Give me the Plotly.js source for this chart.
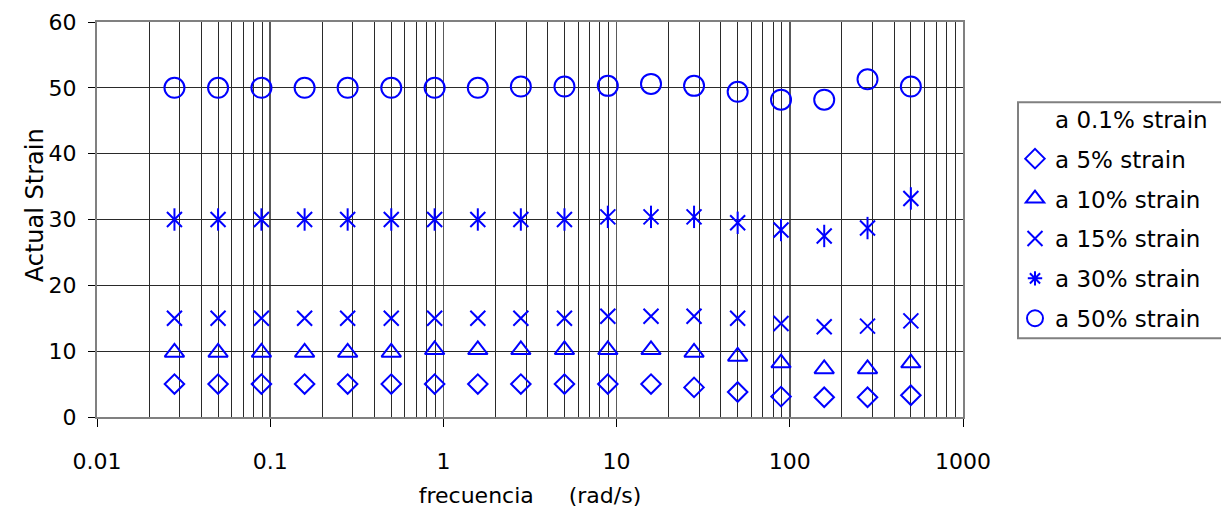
<!DOCTYPE html>
<html>
<head>
<meta charset="utf-8">
<script src="https://cdn.plot.ly/plotly-3.0.1.min.js"></script>
<style>
html,body{margin:0;padding:0;background:#fff;}
#chart{width:1221px;height:513px;}
</style>
</head>
<body>
<div id="chart"></div>
<script>
// Data
const freq = [0.028, 0.05, 0.089, 0.158, 0.28, 0.5, 0.89, 1.58, 2.8, 5.0, 8.9, 15.8, 28, 50, 89, 158, 281, 500];
const strain01 = [null];
const strain5  = [5.0, 5.0, 5.0, 5.0, 5.0, 5.0, 5.0, 5.0, 5.0, 5.0, 5.0, 5.0, 4.5, 3.8, 3.1, 3.0, 3.0, 3.3];
const strain10 = [9.8, 9.8, 9.8, 9.8, 9.8, 9.8, 10.2, 10.2, 10.2, 10.2, 10.2, 10.2, 9.8, 9.2, 8.2, 7.3, 7.3, 8.2];
const strain15 = [15.0, 15.0, 15.0, 15.0, 15.0, 15.0, 15.0, 15.0, 15.0, 15.0, 15.3, 15.3, 15.3, 15.0, 14.2, 13.7, 13.8, 14.6];
const strain30 = [30.0, 30.0, 30.0, 30.0, 30.0, 30.0, 30.0, 30.0, 30.0, 30.0, 30.4, 30.4, 30.4, 29.5, 28.4, 27.5, 28.7, 33.2];
const strain50 = [50.0, 50.0, 50.0, 50.0, 50.0, 50.0, 50.0, 50.0, 50.2, 50.2, 50.3, 50.6, 50.3, 49.4, 48.2, 48.2, 51.3, 50.2];
const seriesNames = ['a 0.1% strain', 'a 5% strain', 'a 10% strain', 'a 15% strain', 'a 30% strain', 'a 50% strain'];
const xTickVals = [0.01, 0.1, 1, 10, 100, 1000];
const xTickText = ['0.01', '0.1', '1', '10', '100', '1000'];
const yTickVals = [0, 10, 20, 30, 40, 50, 60];

const BLUE = '#0000FF';
const FONT = 'DejaVu Sans, Liberation Sans, Arial, sans-serif';

// minor log gridline positions (2..9 in each decade)
const minorVals = [];
for (let e = -2; e < 3; e++) {
  for (let m = 2; m <= 9; m++) minorVals.push(m * Math.pow(10, e));
}

function mk(symbol, size) {
  return {symbol: symbol, size: size, color: BLUE, line: {color: BLUE, width: 2}};
}

const traces = [
  {x: [null], y: strain01, name: seriesNames[0], mode: 'markers', legendgroup: 'g0',
   marker: {symbol: 'circle', size: 1, color: 'rgba(0,0,0,0)', line: {width: 0}}},
  {x: freq, y: strain5, name: seriesNames[1], mode: 'markers', legendgroup: 'g1',
   marker: mk('diamond-open', 15)},
  {x: freq, y: strain10, name: seriesNames[2], mode: 'markers', legendgroup: 'g2',
   marker: mk('triangle-up-open', 17)},
  {x: freq, y: strain15, name: seriesNames[3], mode: 'markers', legendgroup: 'g3',
   marker: mk('x-thin-open', 15)},
  // legend entry for 30% (asterisk)
  {x: [null], y: [null], name: seriesNames[4], mode: 'markers', legendgroup: 'g4',
   marker: mk('asterisk-open', 12)},
  {x: freq, y: strain30, name: seriesNames[4], mode: 'markers', legendgroup: 'g4', showlegend: false,
   marker: mk('x-thin-open', 15)},
  {x: freq, y: strain30, name: seriesNames[4], mode: 'markers', legendgroup: 'g4', showlegend: false,
   marker: mk('line-ns-open', 16)},
  {x: freq, y: strain50, name: seriesNames[5], mode: 'markers', legendgroup: 'g5',
   marker: mk('circle-open', 20)}
];

const L = 97, R = 963, T = 21.7, B = 416.7, W = 1221, H = 513;
const px = v => (v - L) / (R - L);
const py = v => (B - v) / (B - T);

const layout = {
  width: W, height: H,
  margin: {l: L, r: W - R, t: T, b: H - B, autoexpand: false},
  paper_bgcolor: '#ffffff',
  plot_bgcolor: '#ffffff',
  font: {family: FONT, color: '#000000', size: 22},
  showlegend: true,
  xaxis: {
    type: 'log',
    range: [-2, 3],
    tickmode: 'array',
    tickvals: xTickVals,
    ticktext: xTickText,
    ticks: 'outside', ticklen: 8, tickcolor: '#000000', tickwidth: 1,
    ticklabelstandoff: 16,
    tickfont: {family: FONT, size: 22, color: '#000000'},
    showgrid: true, gridcolor: '#5a5a5a', gridwidth: 1.5,
    minor: {tickmode: 'array', tickvals: minorVals, showgrid: true, gridcolor: '#2a2a2a', gridwidth: 1, ticks: ''},
    showline: true, linecolor: '#808080', linewidth: 2, mirror: true,
    zeroline: false,
    title: {text: 'frecuencia     (rad/s)', font: {family: FONT, size: 22, color: '#000000'}, standoff: 14}
  },
  yaxis: {
    range: [0, 60],
    tickmode: 'array',
    tickvals: yTickVals,
    ticks: 'outside', ticklen: 7, tickcolor: '#000000', tickwidth: 1,
    ticklabelstandoff: 7,
    tickfont: {family: FONT, size: 22, color: '#000000'},
    showgrid: true, gridcolor: '#2a2a2a', gridwidth: 1,
    showline: true, linecolor: '#808080', linewidth: 2, mirror: true,
    zeroline: false
  },
  legend: {
    x: px(1015), xanchor: 'left',
    y: py(97), yanchor: 'top',
    bgcolor: 'rgba(0,0,0,0)',
    borderwidth: 0,
    font: {family: FONT, size: 23, color: '#000000'},
    traceorder: 'grouped',
    tracegroupgap: 7
  },
  shapes: [{
    type: 'rect', xref: 'paper', yref: 'paper',
    x0: px(1018), x1: px(1240), y0: py(338), y1: py(102),
    line: {color: '#808080', width: 2}, fillcolor: '#ffffff', layer: 'below'
  }],
  annotations: [{
    text: 'Actual Strain',
    xref: 'paper', yref: 'paper',
    x: px(35), y: py(205),
    xanchor: 'center', yanchor: 'middle',
    textangle: -90, showarrow: false,
    font: {family: FONT, size: 24, color: '#000000'}
  }]
};

Plotly.newPlot('chart', traces, layout, {displayModeBar: false, staticPlot: true});
</script>
</body>
</html>
